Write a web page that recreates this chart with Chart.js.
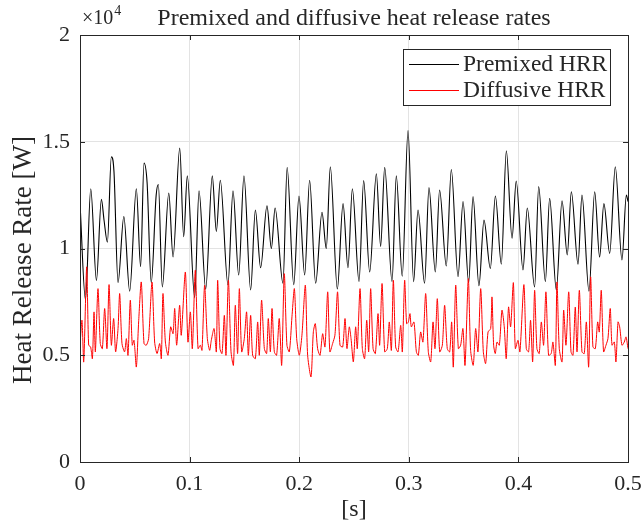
<!DOCTYPE html>
<html>
<head>
<meta charset="utf-8">
<script src="https://cdn.jsdelivr.net/npm/chart.js@4.4.1/dist/chart.umd.min.js"></script>
<style>
html, body { margin: 0; padding: 0; background: #fff; }
#wrap { width: 643px; height: 524px; }
</style>
</head>
<body>
<div id="wrap"><canvas id="hrr" width="643" height="524"></canvas></div>
<script>
// time [s] and heat release rate [W], peaks/troughs
var premixedTime = [
  0, 0.005, 0.0098, 0.015, 0.0195, 0.022, 0.025, 0.0286, 0.031, 0.0347,
  0.040, 0.0453, 0.0514, 0.0553, 0.0584, 0.0612, 0.065, 0.0695, 0.0715, 0.0751,
  0.081, 0.0849, 0.091, 0.0946, 0.0979, 0.1046, 0.1086, 0.1147, 0.1207, 0.1244,
  0.128, 0.135, 0.1396, 0.1448, 0.1496, 0.1557, 0.160, 0.1648, 0.1706, 0.1746,
  0.178, 0.1852, 0.189, 0.195, 0.1998, 0.205, 0.2095, 0.215, 0.2208, 0.2247,
  0.2284, 0.2348, 0.24, 0.2445, 0.2485, 0.2546, 0.2588, 0.2643, 0.2704, 0.2743,
  0.278, 0.2847, 0.2886, 0.294, 0.2993, 0.3044, 0.3084, 0.3144, 0.3184, 0.3242,
  0.3281, 0.3342, 0.3388, 0.3449, 0.3495, 0.3546, 0.3586, 0.364, 0.3686, 0.3744,
  0.379, 0.3844, 0.389, 0.3942, 0.398, 0.4042, 0.4081, 0.4148, 0.4185, 0.4246,
  0.4285, 0.4346, 0.4398, 0.4446, 0.4483, 0.4544, 0.458, 0.4644, 0.4696, 0.4741,
  0.478, 0.4833, 0.4884, 0.4945, 0.4985, 0.5
];
var premixedHRR = [
  12130, 7600, 12800, 8500, 12300, 11300, 10300, 14300, 13600, 8400,
  11500, 8000, 12800, 9150, 14000, 13100, 8400, 12500, 13000, 8200,
  12600, 9600, 14700, 10550, 13400, 7700, 12700, 8100, 13400, 10800,
  13200, 8300, 12700, 8760, 13400, 8060, 11800, 9100, 12000, 10000,
  11900, 8370, 13800, 8300, 12460, 8760, 13200, 8370, 11700, 10000,
  13830, 8100, 12100, 9100, 12800, 8450, 13180, 8900, 13500, 10100,
  13800, 8450, 13400, 8700, 15520, 8450, 11800, 8370, 12850, 8900,
  12740, 9180, 13700, 8680, 12200, 8400, 12430, 8260, 11330, 9070,
  12460, 9270, 14580, 10480, 13160, 9000, 11900, 8200, 12900, 8450,
  12350, 8060, 12240, 9700, 12660, 9270, 12500, 8000, 12660, 9600,
  12100, 9770, 13830, 9460, 12500, 12200
];
var diffusiveTime = [
  0, 0.0018, 0.0034, 0.0061, 0.0079, 0.0097, 0.0113, 0.0128, 0.0140, 0.0164,
  0.0185, 0.0204, 0.0225, 0.0246, 0.0265, 0.0286, 0.0307, 0.0325, 0.0347, 0.0362,
  0.0383, 0.0407, 0.0423, 0.0438, 0.0459, 0.0477, 0.0493, 0.0514, 0.0535, 0.0559,
  0.0584, 0.0605, 0.0626, 0.0657, 0.0681, 0.0703, 0.0727, 0.0742, 0.0757, 0.0779,
  0.0803, 0.0827, 0.0849, 0.0864, 0.0882, 0.0909, 0.0924, 0.0961, 0.0985, 0.1007,
  0.1025, 0.1052, 0.1077, 0.1098, 0.1113, 0.1137, 0.1162, 0.1183, 0.1198, 0.1223,
  0.1244, 0.1256, 0.1277, 0.1296, 0.1317, 0.1332, 0.1354, 0.1378, 0.1400, 0.1417,
  0.1438, 0.1454, 0.1475, 0.1499, 0.1520, 0.1536, 0.1557, 0.1575, 0.1600, 0.1621,
  0.1636, 0.1657, 0.1682, 0.1703, 0.1718, 0.1737, 0.1752, 0.1773, 0.1794, 0.1818,
  0.1840, 0.1864, 0.1888, 0.1910, 0.1934, 0.1956, 0.1977, 0.2001, 0.2025, 0.2056,
  0.2077, 0.2108, 0.2129, 0.2147, 0.2168, 0.2190, 0.2214, 0.2235, 0.2260, 0.2280,
  0.2305, 0.2326, 0.2350, 0.2372, 0.2397, 0.2418, 0.2436, 0.2457, 0.2473, 0.2494,
  0.2515, 0.2530, 0.2555, 0.2576, 0.2597, 0.2616, 0.2634, 0.2652, 0.2674, 0.2695,
  0.2719, 0.2734, 0.2756, 0.2780, 0.2804, 0.2822, 0.2841, 0.2859, 0.2880, 0.2902,
  0.2926, 0.2941, 0.2962, 0.2980, 0.2996, 0.3011, 0.3023, 0.3047, 0.3069, 0.3087,
  0.3108, 0.3129, 0.3154, 0.3178, 0.3200, 0.3221, 0.3239, 0.3260, 0.3282, 0.3306,
  0.3327, 0.3351, 0.3373, 0.3391, 0.3406, 0.3428, 0.3452, 0.3473, 0.3494, 0.3513,
  0.3543, 0.3564, 0.3588, 0.3610, 0.3631, 0.3656, 0.3680, 0.3701, 0.3723, 0.3747,
  0.3759, 0.3774, 0.3789, 0.3805, 0.3826, 0.3850, 0.3871, 0.3889, 0.3910, 0.3929,
  0.3954, 0.3972, 0.3996, 0.4014, 0.4050, 0.4072, 0.4093, 0.4111, 0.4130, 0.4148,
  0.4169, 0.4190, 0.4209, 0.4230, 0.4251, 0.4275, 0.4299, 0.4315, 0.4337, 0.4352,
  0.4373, 0.4398, 0.4413, 0.4434, 0.4459, 0.4480, 0.4498, 0.4519, 0.4535, 0.4556,
  0.4580, 0.4601, 0.4620, 0.4641, 0.4659, 0.4680, 0.4702, 0.4723, 0.4738, 0.4756,
  0.4777, 0.4799, 0.4817, 0.4838, 0.4854, 0.4875, 0.4890, 0.4909, 0.4924, 0.4945,
  0.4966, 0.4982, 0.5
];
var diffusiveHRR = [
  5470, 6640, 4690, 9140, 5470, 5390, 4840, 7030, 5160, 8120,
  5550, 5310, 7190, 5310, 8310, 5470, 6720, 5160, 6250, 7890,
  5550, 5160, 5780, 5000, 7580, 5470, 5700, 4450, 6560, 8430,
  5550, 5470, 5780, 8430, 5620, 5080, 5550, 4840, 7890, 5620,
  5000, 6330, 6010, 7190, 5470, 7340, 5940, 8900, 5620, 7030,
  5310, 8980, 5310, 5470, 5230, 8280, 5780, 5230, 5700, 6250,
  5160, 8510, 5310, 5080, 6870, 5000, 8510, 5160, 4530, 7340,
  5080, 8120, 5160, 5780, 7030, 5000, 6870, 5000, 4840, 6560,
  5000, 7580, 5310, 5080, 6720, 5160, 7190, 5160, 5000, 6720,
  4530, 8820, 5470, 5160, 6800, 8120, 5780, 5000, 5940, 8280,
  5000, 3990, 6090, 6480, 5310, 5000, 6010, 5390, 7970, 5160,
  5550, 5940, 7970, 5470, 5390, 6720, 5310, 6330, 5780, 4690,
  6330, 5310, 8120, 5310, 4840, 6640, 5160, 8120, 5310, 5080,
  6950, 5470, 8360, 5160, 5310, 6560, 5230, 8510, 5390, 5160,
  6400, 5160, 8510, 6480, 6560, 6950, 6330, 6560, 5160, 5000,
  6090, 5620, 7890, 5160, 4690, 6560, 5310, 7650, 5160, 5470,
  7340, 5310, 5160, 6560, 4450, 8280, 5310, 5470, 6250, 4530,
  8590, 5230, 4530, 6250, 5160, 8120, 5160, 4610, 6090, 6250,
  7730, 5470, 5080, 5620, 5470, 7110, 6330, 4840, 7260, 6330,
  8400, 5310, 5700, 5160, 8310, 5310, 5160, 6640, 4690, 8040,
  5310, 5080, 6560, 5470, 7970, 5000, 5080, 5620, 4530, 8430,
  5310, 4690, 7110, 5470, 7970, 5160, 5000, 7260, 5160, 8040,
  5160, 5080, 6560, 4450, 8670, 5390, 5310, 6560, 6090, 8040,
  5160, 5470, 5780, 7190, 5470, 5620, 4690, 6560, 6330, 5470,
  5620, 5860, 5310
];
var xTicks = [0, 0.1, 0.2, 0.3, 0.4, 0.5];
var yTicks = [0, 5000, 10000, 15000, 20000];
var seriesNames = ['Premixed HRR', 'Diffusive HRR'];

var serif = "'Liberation Serif', 'DejaVu Serif', serif";
var ink = '#262626';

function toPoints(t, v) {
  var n = Math.min(t.length, v.length), pts = [];
  for (var i = 0; i < n; i++) pts.push({x: t[i], y: v[i]});
  return pts;
}

// MATLAB style box, inward ticks, legend, title, y label and x10^4 exponent
var matlabLook = {
  id: 'matlabLook',
  afterDatasetsDraw: function (chart) {
    var ctx = chart.ctx, a = chart.chartArea;
    var xs = chart.scales.x, ys = chart.scales.y, len = 5;
    ctx.save();
    ctx.strokeStyle = ink;
    ctx.lineWidth = 1;
    ctx.beginPath();
    xTicks.forEach(function (t) {
      var px = Math.round(xs.getPixelForValue(t)) + 0.5;
      ctx.moveTo(px, a.bottom); ctx.lineTo(px, a.bottom - len);
      ctx.moveTo(px, a.top); ctx.lineTo(px, a.top + len);
    });
    yTicks.forEach(function (v) {
      var py = Math.round(ys.getPixelForValue(v)) + 0.5;
      ctx.moveTo(a.left, py); ctx.lineTo(a.left + len, py);
      ctx.moveTo(a.right, py); ctx.lineTo(a.right - len, py);
    });
    ctx.stroke();
    ctx.strokeRect(Math.round(a.left) + 0.5, Math.round(a.top) + 0.5,
      Math.round(a.right - a.left), Math.round(a.bottom - a.top));

    // legend
    var lx = 403, ly = 49, lw = 207, lh = 56;
    ctx.fillStyle = '#fff';
    ctx.fillRect(lx, ly, lw, lh);
    ctx.strokeStyle = ink;
    ctx.strokeRect(lx + 0.5, ly + 0.5, lw, lh);
    var colors = ['#000000', '#ff0000'];
    ctx.font = '23.5px ' + serif;
    ctx.textBaseline = 'middle';
    ctx.textAlign = 'left';
    for (var i = 0; i < seriesNames.length; i++) {
      var yy = ly + 15 + i * 26;
      ctx.strokeStyle = colors[i];
      ctx.beginPath();
      ctx.moveTo(lx + 6, yy + 0.5); ctx.lineTo(lx + 56, yy + 0.5);
      ctx.stroke();
      ctx.fillStyle = ink;
      ctx.fillText(seriesNames[i], lx + 60, yy + 1);
    }

    // title
    ctx.fillStyle = ink;
    ctx.textAlign = 'center';
    ctx.textBaseline = 'alphabetic';
    ctx.font = '24px ' + serif;
    ctx.fillText('Premixed and diffusive heat release rates', (a.left + a.right) / 2, 25);

    // y axis label
    ctx.save();
    ctx.translate(24, 260);
    ctx.rotate(-Math.PI / 2);
    ctx.textBaseline = 'middle';
    ctx.font = '27px ' + serif;
    ctx.fillText('Heat Release Rate [W]', 0, 0);
    ctx.restore();

    // exponent
    ctx.textAlign = 'left';
    ctx.font = '20px ' + serif;
    ctx.fillText('\u00d710', a.left + 2, 24);
    var w = ctx.measureText('\u00d710').width;
    ctx.font = '14px ' + serif;
    ctx.fillText('4', a.left + 2 + w + 1, 15);
    ctx.restore();
  }
};

new Chart(document.getElementById('hrr').getContext('2d'), {
  type: 'line',
  data: {
    datasets: [{
      label: seriesNames[0],
      data: toPoints(premixedTime, premixedHRR),
      borderColor: '#000000',
      borderWidth: 1.1,
      pointRadius: 0,
      cubicInterpolationMode: 'monotone',
      order: 2
    }, {
      label: seriesNames[1],
      data: toPoints(diffusiveTime, diffusiveHRR),
      borderColor: '#ff0000',
      borderWidth: 1,
      pointRadius: 0,
      tension: 0.25,
      order: 1
    }]
  },
  options: {
    responsive: false,
    animation: false,
    devicePixelRatio: 1,
    layout: { padding: { left: 0, right: 15, top: 35, bottom: 0 } },
    plugins: { legend: { display: false }, tooltip: { enabled: false } },
    scales: {
      x: {
        type: 'linear', min: 0, max: 0.5,
        afterBuildTicks: function (s) { s.ticks = xTicks.map(function (v) { return {value: v}; }); },
        afterFit: function (s) { s.height = 62; s.paddingLeft = 0; s.paddingRight = 0; },
        ticks: {
          color: ink, padding: 9, maxRotation: 0,
          font: { family: serif, size: 22 },
          callback: function (v) { return String(+v.toFixed(1)); }
        },
        grid: { color: '#e3e3e3', drawTicks: false },
        border: { color: ink },
        title: { display: true, text: '[s]', color: ink, font: { family: serif, size: 24 }, padding: { top: 0, bottom: 0 } }
      },
      y: {
        min: 0, max: 20000,
        afterBuildTicks: function (s) { s.ticks = yTicks.map(function (v) { return {value: v}; }); },
        afterFit: function (s) { s.width = 80; s.paddingTop = 0; s.paddingBottom = 0; },
        ticks: {
          color: ink, padding: 10,
          font: { family: serif, size: 22 },
          callback: function (v) { return String(v / 10000); }
        },
        grid: { color: '#e3e3e3', drawTicks: false },
        border: { color: ink }
      }
    }
  },
  plugins: [matlabLook]
});
</script>
</body>
</html>
